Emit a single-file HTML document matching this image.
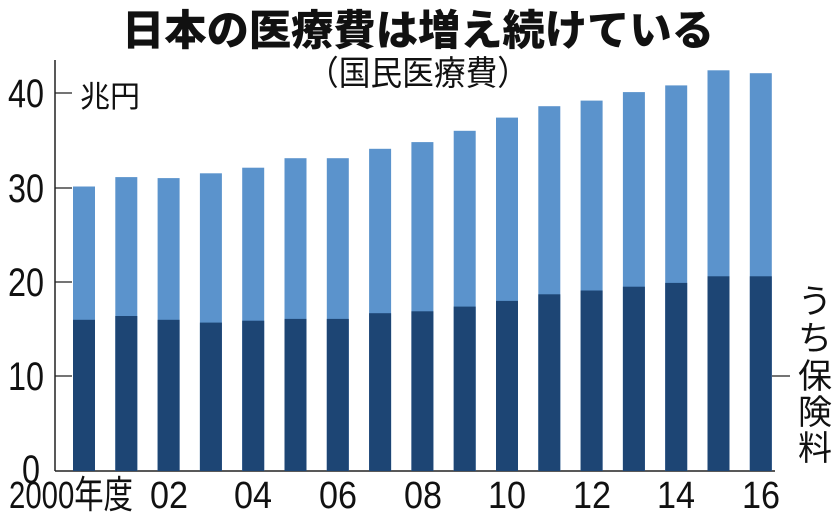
<!DOCTYPE html>
<html><head><meta charset="utf-8"><style>
body{margin:0;background:#fff;}
svg text{font-family:"Liberation Sans","Noto Sans CJK JP",sans-serif;fill:#111;}
</style></head><body>
<svg width="838" height="521" viewBox="0 0 838 521" xmlns="http://www.w3.org/2000/svg">
<rect width="838" height="521" fill="#fff"/>
<text x="418" y="45" text-anchor="middle" font-size="42" font-weight="900" style="font-family:'Noto Sans CJK JP',sans-serif" textLength="592" lengthAdjust="spacingAndGlyphs">日本の医療費は増え続けている</text>
<text x="418" y="85" text-anchor="middle" font-size="34" style="font-family:'Noto Sans CJK JP',sans-serif" textLength="222" lengthAdjust="spacingAndGlyphs">（国民医療費）</text>
<line x1="55" y1="60" x2="55" y2="471" stroke="#222" stroke-width="1.5"/>
<line x1="55" y1="471" x2="775" y2="471" stroke="#222" stroke-width="1.5"/>
<g stroke="#222" stroke-width="1.2">
<line x1="55" y1="93" x2="72" y2="93"/><line x1="55" y1="188" x2="72" y2="188"/>
<line x1="55" y1="282" x2="72" y2="282"/><line x1="55" y1="376" x2="72" y2="376"/>
<line x1="772" y1="376" x2="790" y2="376"/>
</g>
<g font-size="40" text-anchor="end">
<text x="44" y="107" textLength="36" lengthAdjust="spacingAndGlyphs">40</text>
<text x="44" y="202" textLength="36" lengthAdjust="spacingAndGlyphs">30</text>
<text x="44" y="296" textLength="36" lengthAdjust="spacingAndGlyphs">20</text>
<text x="44" y="390" textLength="36" lengthAdjust="spacingAndGlyphs">10</text>
<text x="40" y="483" textLength="18" lengthAdjust="spacingAndGlyphs">0</text>
</g>
<text x="80" y="107" font-size="30" style="font-family:'Noto Sans CJK JP',sans-serif">兆円</text>
<g font-size="34" style="font-family:'Noto Sans CJK JP',sans-serif" text-anchor="middle">
<text x="815" y="313">う</text><text x="815" y="350">ち</text><text x="815" y="388">保</text><text x="815" y="424">険</text><text x="815" y="460">料</text>
</g>
<g font-size="38" text-anchor="middle">
<text x="71" y="508" textLength="124" lengthAdjust="spacingAndGlyphs">2000年度</text>
<text x="169" y="508" textLength="38" lengthAdjust="spacingAndGlyphs">02</text>
<text x="253" y="508" textLength="38" lengthAdjust="spacingAndGlyphs">04</text>
<text x="338" y="508" textLength="38" lengthAdjust="spacingAndGlyphs">06</text>
<text x="423" y="508" textLength="38" lengthAdjust="spacingAndGlyphs">08</text>
<text x="507" y="508" textLength="38" lengthAdjust="spacingAndGlyphs">10</text>
<text x="592" y="508" textLength="38" lengthAdjust="spacingAndGlyphs">12</text>
<text x="676" y="508" textLength="38" lengthAdjust="spacingAndGlyphs">14</text>
<text x="761" y="508" textLength="38" lengthAdjust="spacingAndGlyphs">16</text>
</g>
<g>
<rect x="73.0" y="186.5" width="22" height="284.5" fill="#5b93cc"/><rect x="73.0" y="319.8" width="22" height="151.2" fill="#1d4574"/>
<rect x="115.3" y="177.1" width="22" height="293.9" fill="#5b93cc"/><rect x="115.3" y="316.0" width="22" height="155.0" fill="#1d4574"/>
<rect x="157.6" y="178.1" width="22" height="292.9" fill="#5b93cc"/><rect x="157.6" y="319.8" width="22" height="151.2" fill="#1d4574"/>
<rect x="199.9" y="173.3" width="22" height="297.7" fill="#5b93cc"/><rect x="199.9" y="322.6" width="22" height="148.4" fill="#1d4574"/>
<rect x="242.2" y="167.7" width="22" height="303.3" fill="#5b93cc"/><rect x="242.2" y="320.7" width="22" height="150.3" fill="#1d4574"/>
<rect x="284.5" y="158.2" width="22" height="312.8" fill="#5b93cc"/><rect x="284.5" y="318.9" width="22" height="152.1" fill="#1d4574"/>
<rect x="326.8" y="158.2" width="22" height="312.8" fill="#5b93cc"/><rect x="326.8" y="318.9" width="22" height="152.1" fill="#1d4574"/>
<rect x="369.1" y="148.8" width="22" height="322.2" fill="#5b93cc"/><rect x="369.1" y="313.2" width="22" height="157.8" fill="#1d4574"/>
<rect x="411.4" y="142.1" width="22" height="328.9" fill="#5b93cc"/><rect x="411.4" y="311.3" width="22" height="159.7" fill="#1d4574"/>
<rect x="453.7" y="130.8" width="22" height="340.2" fill="#5b93cc"/><rect x="453.7" y="306.6" width="22" height="164.4" fill="#1d4574"/>
<rect x="496.0" y="117.6" width="22" height="353.4" fill="#5b93cc"/><rect x="496.0" y="300.9" width="22" height="170.1" fill="#1d4574"/>
<rect x="538.3" y="106.2" width="22" height="364.8" fill="#5b93cc"/><rect x="538.3" y="294.3" width="22" height="176.7" fill="#1d4574"/>
<rect x="580.6" y="100.6" width="22" height="370.4" fill="#5b93cc"/><rect x="580.6" y="290.5" width="22" height="180.5" fill="#1d4574"/>
<rect x="622.9" y="92.1" width="22" height="378.9" fill="#5b93cc"/><rect x="622.9" y="286.7" width="22" height="184.3" fill="#1d4574"/>
<rect x="665.2" y="85.4" width="22" height="385.6" fill="#5b93cc"/><rect x="665.2" y="282.9" width="22" height="188.1" fill="#1d4574"/>
<rect x="707.5" y="70.3" width="22" height="400.7" fill="#5b93cc"/><rect x="707.5" y="276.3" width="22" height="194.7" fill="#1d4574"/>
<rect x="749.8" y="73.2" width="22" height="397.8" fill="#5b93cc"/><rect x="749.8" y="276.3" width="22" height="194.7" fill="#1d4574"/>
</g>
</svg>
</body></html>
